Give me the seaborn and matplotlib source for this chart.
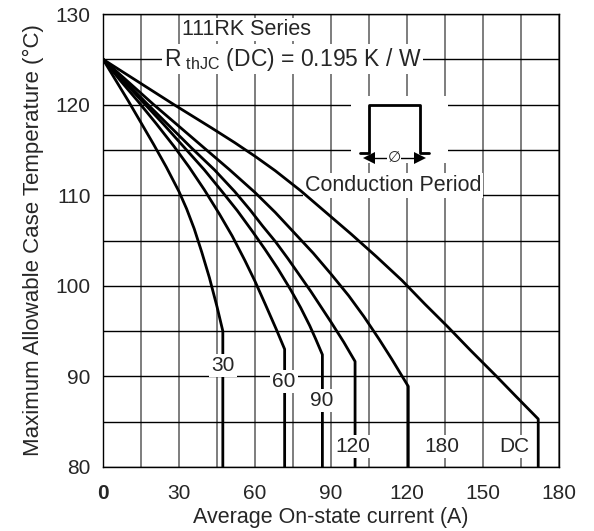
# ============================================================
# plot.py — 111RK Series case temperature vs average on-state current
# ============================================================

import pandas as pd
import numpy as np
import matplotlib
matplotlib.use("Agg")
import matplotlib.pyplot as plt
import seaborn as sns


# ============================================================
# DATA
# ============================================================
current_30 = [0, 5, 10, 15, 20, 25, 30, 33, 36, 39, 42, 45, 47.3]
temp_30 = [125, 122.7, 120.4, 118.0, 115.6, 113.1, 110.4, 108.5, 106.3, 103.7, 100.9, 97.7, 95.0]

current_60 = [0, 7, 14, 21, 28, 34, 40, 46, 51, 56, 60, 64, 68.4, 71.7]
temp_60 = [125, 122.6, 120.3, 117.9, 115.4, 113.1, 110.6, 107.9, 105.5, 102.8, 100.5, 98.0, 95.2, 93.0]

current_90 = [0, 8, 16, 24, 32, 40, 47, 53, 59, 64, 69, 74, 78, 81.6, 84, 86.6]
temp_90 = [125, 122.6, 120.2, 117.8, 115.3, 112.8, 110.4, 108.3, 106.0, 104.0, 101.9, 99.6, 97.6, 95.6, 94.1, 92.4]

current_120 = [0, 9, 17, 26, 35, 44, 52, 58, 63, 68, 73, 78, 82, 86, 90, 95, 99.5]
temp_120 = [125, 122.5, 120.2, 117.7, 115.2, 112.8, 110.4, 108.4, 106.6, 104.9, 103.0, 101.0, 99.4, 97.7, 96.0, 93.8, 91.65]

current_180 = [0, 10, 20, 30, 40, 50, 60, 68, 75, 83, 90, 97, 103, 109, 114, 120.5]
temp_180 = [125, 122.5, 120.0, 117.6, 115.2, 112.8, 110.3, 108.1, 106.0, 103.6, 101.3, 98.9, 96.6, 94.1, 91.9, 88.9]

current_dc = [0, 14, 28, 43, 52, 60, 68, 78, 88, 98, 108, 118, 127, 136, 145, 155, 163, 171.8]
temp_dc = [125, 122.5, 120.0, 117.4, 115.8, 114.3, 112.7, 110.5, 108.1, 105.7, 103.2, 100.6, 98.0, 95.5, 92.9, 90.1, 87.8, 85.3]

series_names = ["30", "60", "90", "120", "180", "DC"]
series_current = [current_30, current_60, current_90, current_120, current_180, current_dc]
series_temp = [temp_30, temp_60, temp_90, temp_120, temp_180, temp_dc]

# label anchor per curve (current, temperature)
label_current = [47.4, 71.5, 86.2, 98.7, 133.6, 162.5]
label_temp = [91.2, 89.4, 87.3, 82.3, 82.3, 82.3]

x_ticks = [0, 30, 60, 90, 120, 150, 180]
y_ticks = [80, 90, 100, 110, 120, 130]
T_FLOOR = 80


# ============================================================
# BUILD LONG TABLE (curve + vertical drop to the floor)
# ============================================================
def build_table():
    frames = []
    for name, cur, tmp in zip(series_names, series_current, series_temp):
        cur = list(cur) + [cur[-1]]
        tmp = list(tmp) + [T_FLOOR]
        frames.append(pd.DataFrame({
            "Current": cur,
            "Temp": tmp,
            "Angle": name,
        }))
    return pd.concat(frames, ignore_index=True)


# ============================================================
# PLOT
# ============================================================
sns.set_style("white")
plt.rcParams["font.family"] = ["Liberation Sans", "DejaVu Sans"]
plt.rcParams["mathtext.fontset"] = "custom"
plt.rcParams["mathtext.rm"] = "Liberation Sans"

df = build_table()

fig = plt.figure(figsize=(5.94, 5.31), dpi=100)
ax = fig.add_axes([103 / 594, 1 - 467 / 531, 456 / 594, 453 / 531])

sns.lineplot(
    data=df, x="Current", y="Temp", hue="Angle", units="Angle",
    estimator=None, sort=False, palette=["black"] * len(series_names),
    linewidth=2, legend=False, ax=ax, zorder=4,
)

ax.set_xlim(0, 180)
ax.set_ylim(80, 130)
ax.set_xticks(x_ticks)
ax.set_yticks(y_ticks)
ax.set_xticks(np.arange(15, 180, 30), minor=True)
ax.set_yticks(np.arange(85, 130, 10), minor=True)
ax.set_axisbelow(True)
ax.grid(True, which="both", axis="x", color="0.45", linewidth=1.3)
ax.grid(True, which="both", axis="y", color="black", linewidth=1.0)
ax.tick_params(which="both", length=0, labelsize=15)
ax.tick_params(axis="x", pad=12)
ax.tick_params(axis="y", pad=9)

for lab in ax.get_xticklabels():
    if lab.get_text() == "0":
        lab.set_fontweight("bold")

for s in ax.spines.values():
    s.set_color("black")
    s.set_linewidth(1.0)

ax.set_xlabel("Average On-state current (A)", fontsize=15.5, labelpad=3)
ax.set_ylabel("Maximum Allowable Case Temperature (°C)", fontsize=16, labelpad=8)

# curve labels
for name, lx, ly in zip(series_names, label_current, label_temp):
    ax.text(lx, ly, name, fontsize=15, ha="center", va="center", zorder=6,
            bbox=dict(facecolor="white", edgecolor="none", pad=1.5))

# series header
ax.text(56.5, 128.3, "111RK Series", fontsize=15.5, ha="center", va="center", zorder=3,
        bbox=dict(facecolor="white", edgecolor="none", pad=0.5))
ax.text(24, 125.0, r"R$_{\rm\ thJC}$ (DC) = 0.195 K / W", fontsize=16.5,
        ha="left", va="center", zorder=3,
        bbox=dict(facecolor="white", edgecolor="none", pad=1.0))

# conduction period inset
ax.add_patch(plt.Rectangle((98, 113.6), 38, 7.4, facecolor="white",
                           edgecolor="none", zorder=2))
ax.plot([101.5, 105, 105, 125, 125, 128.5],
        [114.7, 114.7, 120, 120, 114.7, 114.7], color="black", lw=2, zorder=4)
ax.plot([105, 125], [114.1, 114.1], color="black", lw=1, zorder=4)
ax.plot([105], [114.1], marker="<", color="black", markersize=9,
        markeredgewidth=0, zorder=5, linestyle="none")
ax.plot([125], [114.1], marker=">", color="black", markersize=9,
        markeredgewidth=0, zorder=5, linestyle="none")
ax.text(115, 114.1, "∅", fontsize=11, ha="center", va="center", zorder=5,
        bbox=dict(facecolor="white", edgecolor="none", pad=0.2))
ax.text(114.5, 111.1, "Conduction Period", fontsize=15.5, ha="center", va="center",
        zorder=3, bbox=dict(facecolor="white", edgecolor="none", pad=1.5))

fig.savefig("out.png", dpi=100)
